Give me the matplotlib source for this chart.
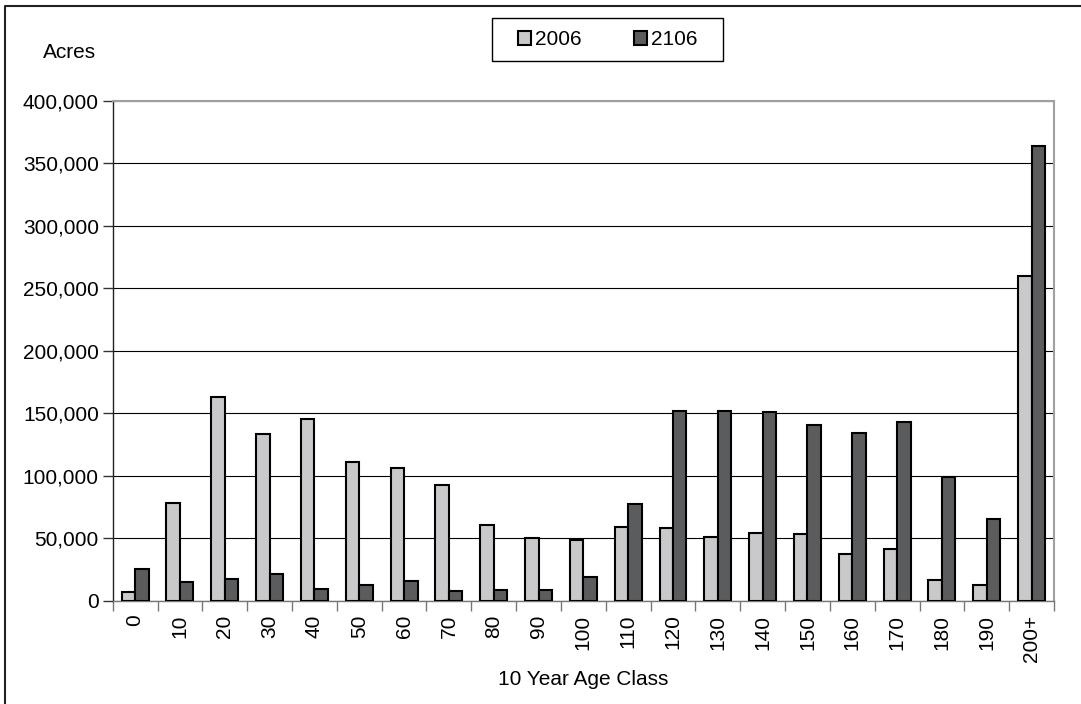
import matplotlib
matplotlib.use("Agg")
import matplotlib.pyplot as plt
import numpy as np
from matplotlib.patches import Rectangle, Patch
from matplotlib.lines import Line2D
from matplotlib.ticker import FuncFormatter, MultipleLocator

# Age classes (10-year bins) and acreage for each year
age_classes = ["0", "10", "20", "30", "40", "50", "60", "70", "80", "90", "100",
               "110", "120", "130", "140", "150", "160", "170", "180", "190", "200+"]
acres_2006 = [6700, 77900, 162700, 133100, 145100, 111300, 105900, 92800, 60600, 50400,
              48800, 59200, 58400, 50700, 54400, 53100, 37100, 41100, 16500, 12300, 260100]
acres_2106 = [25300, 15200, 17300, 21600, 9600, 12300, 15500, 7500, 8500, 8500,
              19200, 77400, 152100, 152100, 151000, 140900, 134500, 143300, 99200, 65100, 363900]
series_names = ["2006", "2106"]

W, H = 1081, 704
plt.rcParams["font.family"] = ["Liberation Sans", "DejaVu Sans"]
FS = 15

fig = plt.figure(figsize=(W / 100, H / 100), dpi=100)

# plot area in pixel coordinates
left, right, top, bottom = 112.7, 1054.0, 101.0, 600.7
ax = fig.add_axes([left / W, (H - bottom) / H, (right - left) / W, (bottom - top) / H])

light = "#C9C9CB"
dark = "#5B5C5E"
x = np.arange(len(age_classes))
bw = 0.30
edge_lw = 1.5
ax.bar(x - bw / 2, acres_2006, width=bw, color=light, edgecolor="black", linewidth=edge_lw, zorder=3)
ax.bar(x + bw / 2, acres_2106, width=bw, color=dark, edgecolor="black", linewidth=edge_lw, zorder=3)

ax.set_xlim(-0.5, len(age_classes) - 0.5)
ax.set_ylim(0, 400000)
ax.yaxis.set_major_locator(MultipleLocator(50000))
ax.yaxis.set_major_formatter(FuncFormatter(lambda v, p: f"{int(v):,}"))
ax.grid(axis="y", color="black", linewidth=0.8, zorder=0)
ax.set_axisbelow(True)

# category boundaries carry the ticks, labels sit at centers
ax.set_xticks(np.arange(len(age_classes) + 1) - 0.5)
ax.set_xticklabels([])
ax.set_xticks(x, minor=True)
ax.set_xticklabels(age_classes, minor=True, rotation=90, fontsize=FS)
ax.tick_params(axis="x", which="major", direction="out", length=7, width=1, color="#777777")
ax.tick_params(axis="x", which="minor", length=0, pad=10)
ax.tick_params(axis="y", direction="out", length=7, width=1, color="#333333", labelsize=FS, pad=3)

for s in ("top", "right"):
    ax.spines[s].set_color("#A0A0A0")
    ax.spines[s].set_linewidth(1.5)
ax.spines["left"].set_color("#222222")
ax.spines["left"].set_linewidth(1.0)
ax.spines["bottom"].set_color("#777777")
ax.spines["bottom"].set_linewidth(1.0)

ax.set_xlabel("10 Year Age Class", fontsize=FS, labelpad=6)
fig.text(43 / W, 1 - 52 / H, "Acres", fontsize=FS, ha="left", va="center")

# legend box
lx0, lx1, ly0, ly1 = 491.7, 723.3, 18.3, 61.0
fig.add_artist(Rectangle((lx0 / W, 1 - ly1 / H), (lx1 - lx0) / W, (ly1 - ly0) / H,
                         transform=fig.transFigure, fill=False, edgecolor="black", linewidth=1.0))
handles = [Patch(facecolor=light, edgecolor="black", linewidth=edge_lw),
           Patch(facecolor=dark, edgecolor="black", linewidth=edge_lw)]
fig.legend(handles, series_names, loc="center", bbox_to_anchor=((lx0 + lx1) / 2 / W, 1 - (ly0 + ly1) / 2 / H),
           ncol=2, frameon=False, fontsize=FS, handlelength=0.62, handleheight=0.62,
           handletextpad=0.2, columnspacing=2.5, borderpad=0.0)

# chart border (left and top edges)
fig.add_artist(Line2D([5 / W, 5 / W, 1.0], [0.0, 1 - 6 / H, 1 - 6 / H],
                      transform=fig.transFigure, color="#222222", linewidth=1.5))

fig.savefig("out.png", dpi=100)
